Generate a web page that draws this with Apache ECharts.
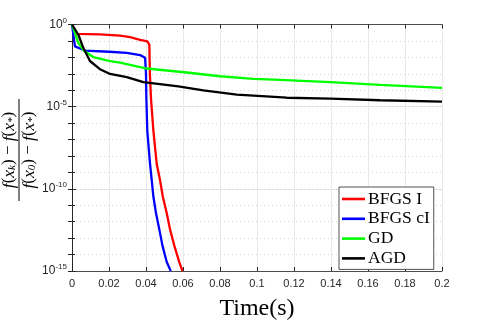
<!DOCTYPE html>
<html>
<head>
<meta charset="utf-8">
<script src="https://cdn.jsdelivr.net/npm/echarts@6/dist/echarts.min.js"></script>
<style>
  html, body { margin: 0; padding: 0; background: #fff; }
  #chart { width: 488px; height: 326px; }
</style>
</head>
<body>
<div id="chart"></div>
<script>
// x: time (s), y: relative error
var bfgsI = [
  [0, 1], [0.0025, 0.27], [0.015, 0.25], [0.026, 0.21], [0.0314, 0.17],
  [0.0368, 0.117], [0.0407, 0.093], [0.0418, 0.06], [0.0421, 1e-3],
  [0.0427, 3.1e-5], [0.0440, 3.4e-7], [0.0458, 3.2e-9], [0.0476, 3.3e-10],
  [0.0491, 3.3e-11], [0.0512, 3.4e-12], [0.0530, 3.4e-13], [0.0553, 3.5e-14],
  [0.0580, 3.5e-15], [0.0597, 1e-15]
];
var bfgsCI = [
  [0, 1], [0.0016, 0.047], [0.007, 0.026], [0.020, 0.022], [0.0296, 0.019],
  [0.0368, 0.0138], [0.0395, 0.0095], [0.0400, 1e-3], [0.0402, 3e-5],
  [0.0407, 3.4e-7], [0.0422, 3.2e-9], [0.0431, 3.3e-10], [0.0440, 3.3e-11],
  [0.0454, 3.4e-12], [0.0472, 3.4e-13], [0.0489, 3.5e-14], [0.0512, 3.5e-15],
  [0.0534, 1e-15]
];
var gd = [
  [0, 1], [0.0034, 0.076], [0.0065, 0.025], [0.0115, 0.0105], [0.0206, 0.006],
  [0.026, 0.0048], [0.0404, 0.0021], [0.062, 0.0012], [0.080, 7.1e-4],
  [0.098, 4.9e-4], [0.1125, 4.3e-4], [0.1396, 3.1e-4], [0.1666, 2.1e-4],
  [0.2, 1.4e-4]
];
var agd = [
  [0, 1], [0.0035, 0.23], [0.0061, 0.038], [0.0097, 0.006], [0.0151, 0.0019],
  [0.0206, 9.8e-4], [0.0296, 6.2e-4], [0.0386, 3.1e-4], [0.0575, 1.7e-4],
  [0.0710, 9.8e-5], [0.0891, 5.4e-5], [0.1161, 3.5e-5], [0.1396, 3.1e-5],
  [0.1666, 2.45e-5], [0.2, 2.0e-5]
];
var names = ['BFGS I', 'BFGS cI', 'GD', 'AGD'];
var colors = ['#ff0000', '#0000ff', '#00ff00', '#000000'];

var axisColor = '#262626';
var serif = '"Liberation Serif", "DejaVu Serif", serif';
var sans = '"Liberation Sans", Arial, sans-serif';

var chart = echarts.init(document.getElementById('chart'));

function makeLine(name, data, color) {
  return {
    name: name,
    type: 'line',
    data: data,
    showSymbol: false,
    symbol: 'none',
    color: color,
    lineStyle: { color: color, width: 2.3 },
    animation: false
  };
}

// log axis helper, decades (step 1) or every 5 decades
function logAxis(pos, step, extra) {
  var ax = {
    type: 'log',
    logBase: 10,
    position: pos,
    min: 1e-15,
    max: 1,
    interval: step,
    splitNumber: 15 / step,
    axisLine: { show: true, lineStyle: { color: axisColor, width: 0.8 } },
    axisTick: { show: true, inside: true, length: 4, lineStyle: { color: axisColor } },
    axisLabel: { show: false },
    splitLine: { show: false }
  };
  for (var k in extra) ax[k] = extra[k];
  return ax;
}

var option = {
  animation: false,
  backgroundColor: '#fff',
  grid: { left: 72, right: 46, top: 24.5, bottom: 50 },
  legend: {
    orient: 'vertical',
    left: 339,
    top: 187,
    data: names,
    icon: 'rect',
    itemWidth: 23,
    itemHeight: 2.6,
    itemGap: 1.8,
    padding: [3, 4, 2, 3],
    backgroundColor: '#fff',
    borderColor: axisColor,
    borderWidth: 0.8,
    textStyle: { fontFamily: serif, fontSize: 17.5, lineHeight: 17, color: '#000', padding: [0, 0, 0, -2] }
  },
  xAxis: [{
    type: 'value',
    min: 0,
    max: 0.2,
    interval: 0.02,
    name: 'Time(s)',
    nameLocation: 'middle',
    nameGap: 26,
    nameTextStyle: { fontFamily: serif, fontSize: 24, color: '#000' },
    axisLine: { lineStyle: { color: axisColor, width: 0.8 } },
    axisTick: { inside: true, length: 4, lineStyle: { color: axisColor } },
    axisLabel: { color: axisColor, fontSize: 11, margin: 7, fontFamily: sans },
    splitLine: { show: true, lineStyle: { color: '#e3e3e3', width: 0.8 } }
  }, {
    type: 'value',
    position: 'top',
    min: 0,
    max: 0.2,
    interval: 0.02,
    axisLine: { show: true, lineStyle: { color: axisColor, width: 0.8 } },
    axisTick: { show: true, inside: true, length: 4, lineStyle: { color: axisColor } },
    axisLabel: { show: false },
    splitLine: { show: false }
  }],
  yAxis: [
    logAxis('left', 5, {
      splitLine: { show: true, lineStyle: { color: '#e3e3e3', width: 0.8 } },
      axisLabel: {
        margin: 5,
        color: axisColor,
        formatter: function (v) {
          return '{b|10}{e|' + Math.round(Math.log10(v)) + '}';
        },
        rich: {
          b: { fontSize: 12, color: axisColor, fontFamily: sans },
          e: { fontSize: 8, color: axisColor, padding: [0, 0, 8, 0], fontFamily: sans }
        }
      }
    }),
    logAxis('right', 1, {}),
    logAxis('left', 1, {
      axisTick: { show: true, inside: true, length: 3, lineStyle: { color: axisColor } },
      splitLine: { show: true, lineStyle: { color: '#c8c8c8', type: [1, 3], width: 0.8 } }
    })
  ],
  series: [
    makeLine(names[0], bfgsI, colors[0]),
    makeLine(names[1], bfgsCI, colors[1]),
    makeLine(names[2], gd, colors[2]),
    makeLine(names[3], agd, colors[3])
  ],
  graphic: [{
    type: 'group',
    x: 19,
    y: 150,
    rotation: Math.PI / 2,
    children: [{
      type: 'line',
      shape: { x1: -51, y1: 0, x2: 51, y2: 0 },
      style: { stroke: '#000', lineWidth: 1 }
    }, {
      type: 'text',
      x: 0,
      y: -1,
      style: {
        text: '{i|f}({i|x}{s|k}) \u2212 {i|f}({i|x}{s|*})',
        align: 'center',
        verticalAlign: 'bottom',
        fill: '#000',
        font: '17px ' + serif,
        rich: {
          i: { fontStyle: 'italic', fontSize: 17.5, fontFamily: serif },
          s: { fontStyle: 'italic', fontSize: 11, fontFamily: serif, padding: [6, 0, 0, 0] }
        }
      }
    }, {
      type: 'text',
      x: 0,
      y: 1,
      style: {
        text: '{i|f}({i|x}{s|0}) \u2212 {i|f}({i|x}{s|*})',
        align: 'center',
        verticalAlign: 'top',
        fill: '#000',
        font: '17px ' + serif,
        rich: {
          i: { fontStyle: 'italic', fontSize: 17.5, fontFamily: serif },
          s: { fontStyle: 'italic', fontSize: 11, fontFamily: serif, padding: [6, 0, 0, 0] }
        }
      }
    }]
  }]
};

chart.setOption(option);
</script>
</body>
</html>
